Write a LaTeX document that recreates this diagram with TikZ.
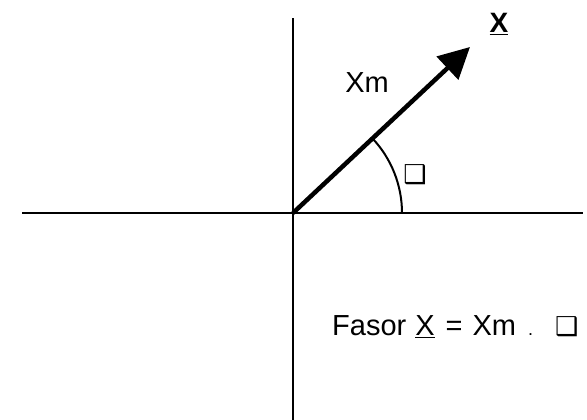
\documentclass[tikz,border=0pt]{standalone}
\usepackage{fontspec}
\setmainfont{Liberation Sans}
\newfontfamily\symfont{DejaVu Sans}
\usetikzlibrary{arrows.meta,positioning}

\begin{document}
\begin{tikzpicture}[
  x=1pt, y=1pt,
  axisline/.style={line width=2pt, draw=black},
  phasor/.style={line width=4.5pt, -{Triangle[length=31pt,width=31pt]}},
  anglearc/.style={line width=2pt},
  lbl/.style={font=\fontsize{29}{33}\selectfont, inner sep=0pt}
]
\useasboundingbox (0,0) rectangle (587,420);

\coordinate (o) at (293,207);
\coordinate (xl) at (22,207);
\coordinate (xr) at (583,207);
\coordinate (yt) at (293,402);
\coordinate (yb) at (293,0);
\coordinate (tip) at (470,373);

% axes
\draw[axisline] (xl) -- (xr);
\draw[axisline] (yb) -- (yt);

% phasor and its angle
\draw[phasor] (o) -- (tip);
\draw[anglearc] (o) ++(109,0) arc[start angle=0, end angle=43.2, radius=109];

\node[lbl] (xm) at (367,337) {Xm};
\node[lbl] (phi) at (415,245) {\symfont\fontsize{26}{30}\selectfont ❑};
\node[lbl, font=\fontsize{28}{32}\selectfont\bfseries] (xname) at (499,396) {\underline{X}};

\node[lbl, anchor=base west] (fasor) at (332,84)
  {Fasor\hspace{9pt}\underline{X}\hspace{11pt}=\hspace{10pt}Xm\hspace{12pt}{\fontsize{18}{20}\selectfont .}\hspace{22pt}{\symfont\fontsize{26}{30}\selectfont ❑}};
\end{tikzpicture}
\end{document}
